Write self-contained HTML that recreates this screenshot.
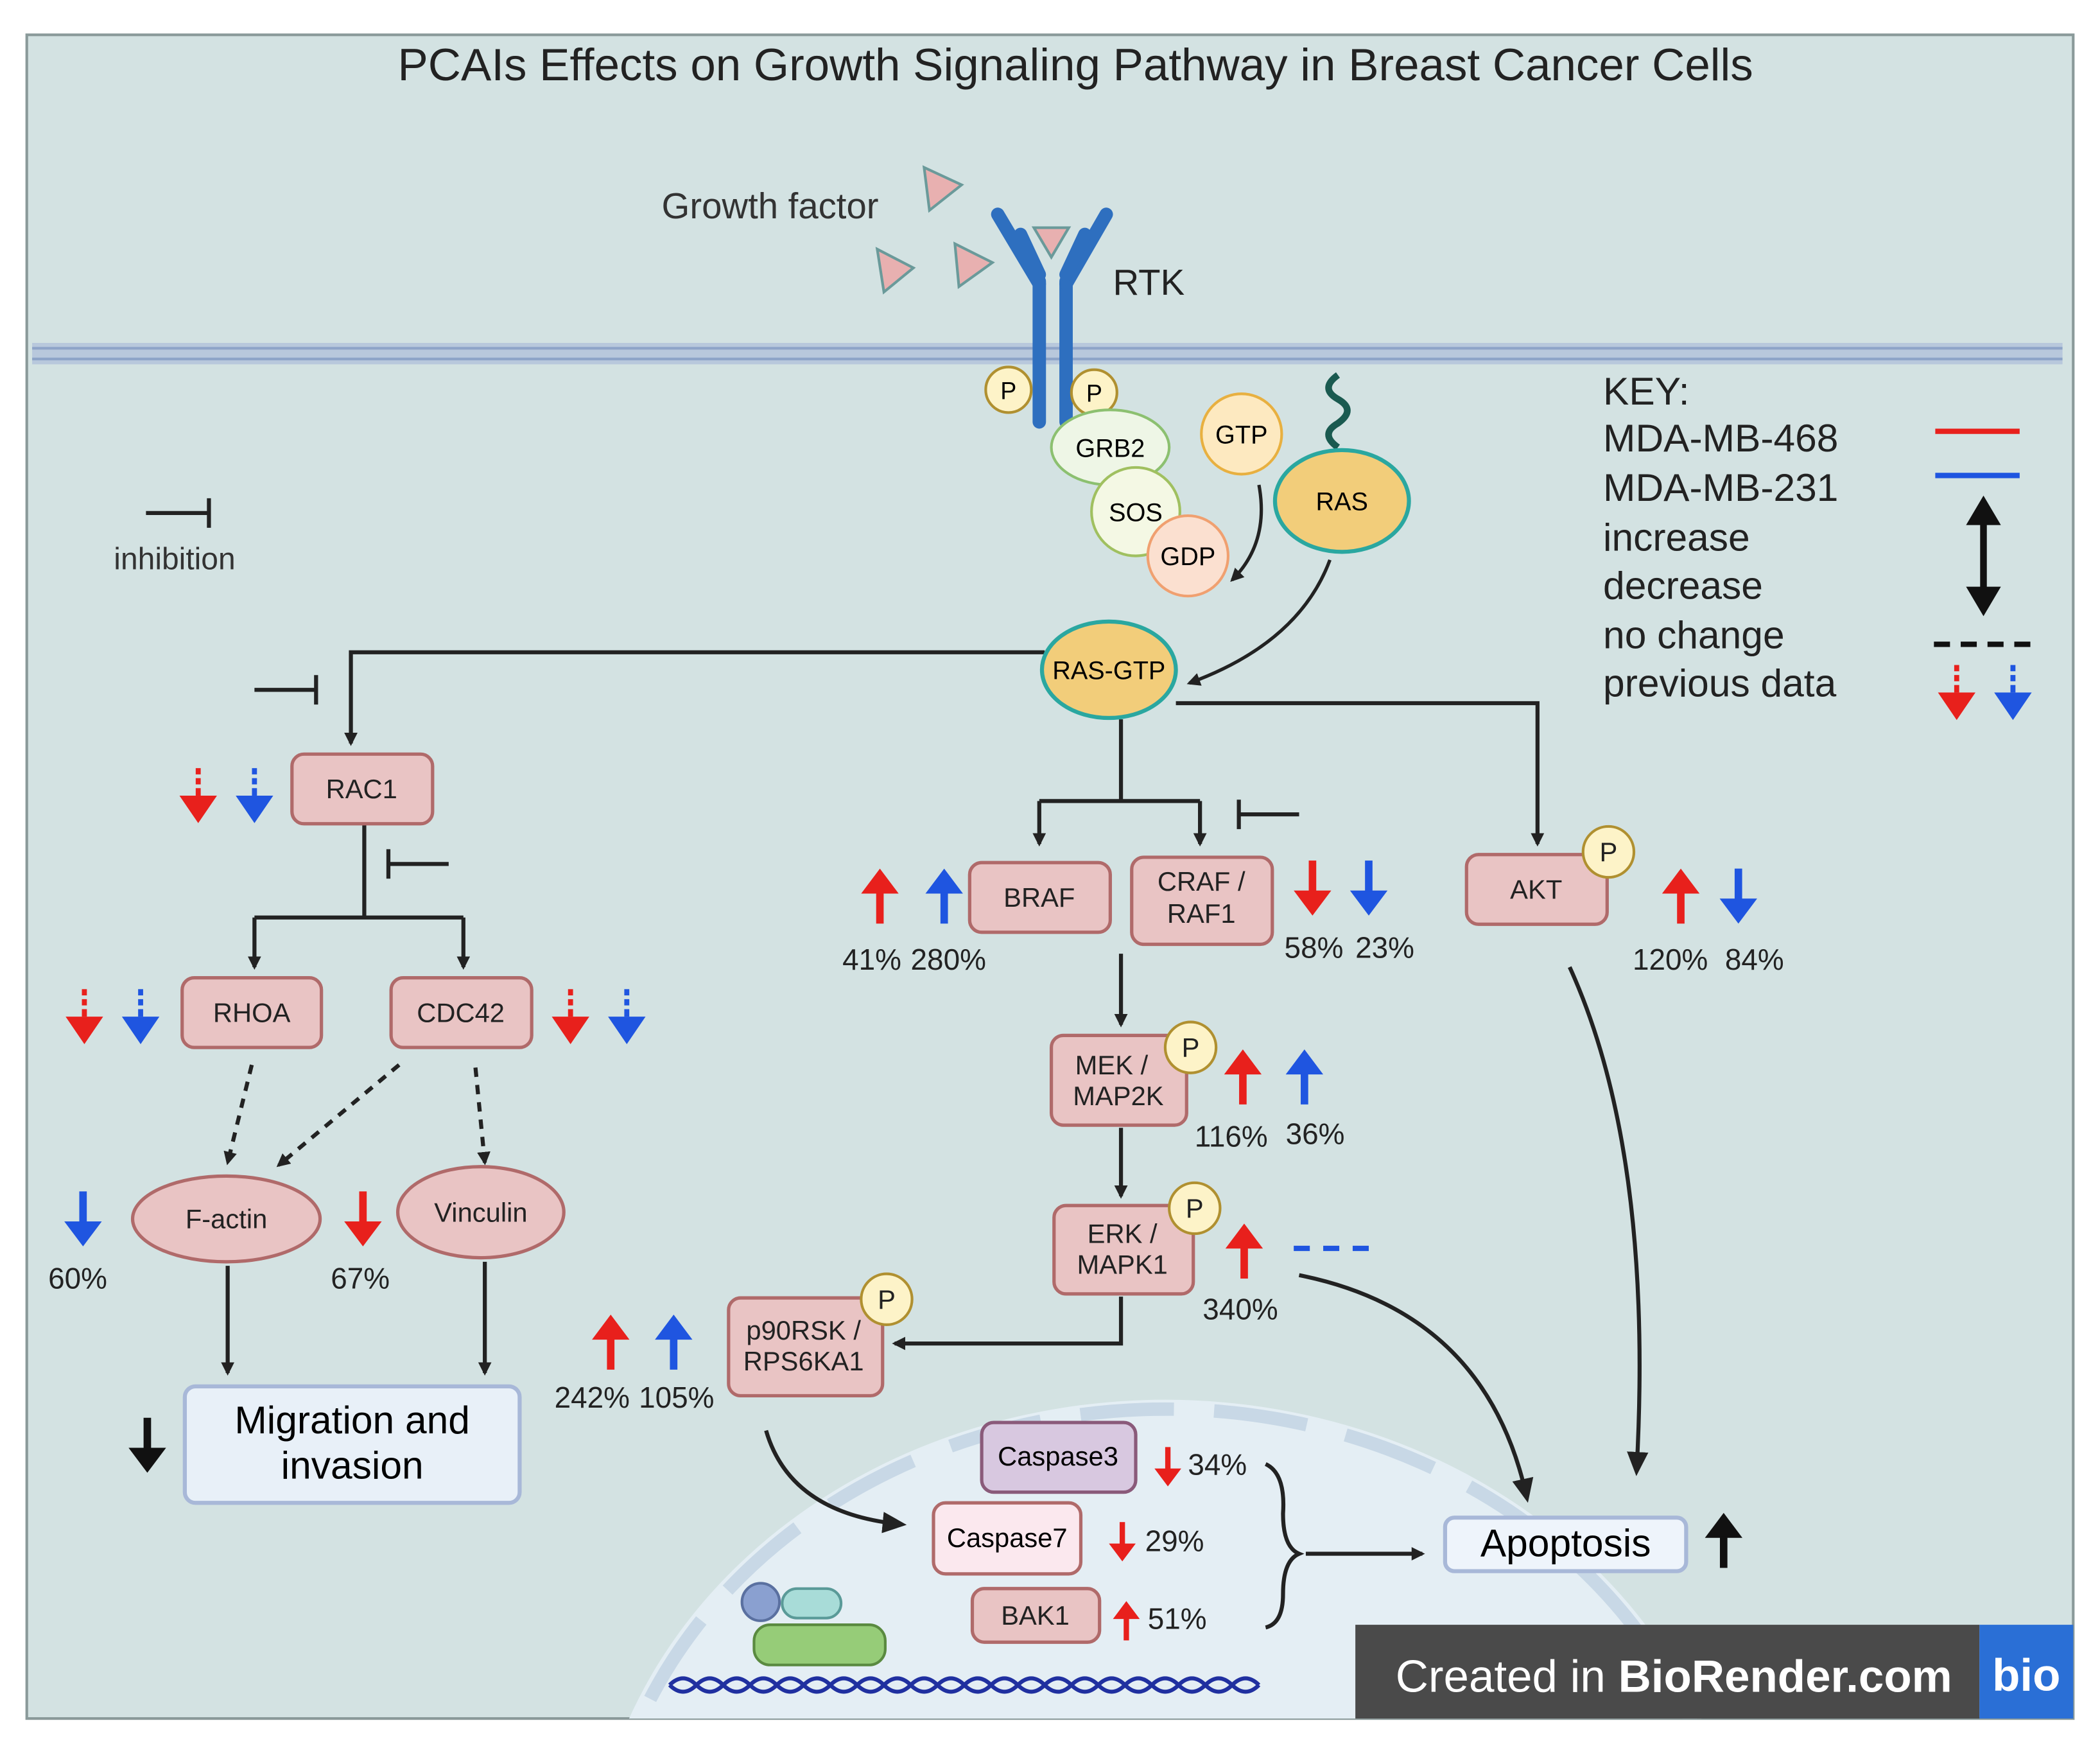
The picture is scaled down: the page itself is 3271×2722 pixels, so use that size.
<!DOCTYPE html>
<html><head><meta charset="utf-8"><style>html,body{margin:0;padding:0;background:#fff;overflow:hidden;width:3271px;height:2722px}svg{display:block}text{font-family:"Liberation Sans",sans-serif}</style></head><body>
<svg width="3271" height="2722" viewBox="0 0 1568 1305" preserveAspectRatio="none" xmlns="http://www.w3.org/2000/svg">
<defs>
<marker id="ah" markerWidth="10" markerHeight="10" refX="8" refY="5" orient="auto" markerUnits="userSpaceOnUse"><path d="M0,0 L10,5 L0,10 z" fill="#222"/></marker>
<marker id="ahb" markerWidth="18" markerHeight="16" refX="14" refY="8" orient="auto" markerUnits="userSpaceOnUse"><path d="M0,0 L18,8 L0,16 z" fill="#222"/></marker>
<symbol id="upR" viewBox="0 0 30 44"><polygon points="0,20 15,0 30,20" fill="#e8201c"/><rect x="12" y="19" width="6" height="25" fill="#e8201c"/></symbol>
<symbol id="upB" viewBox="0 0 30 44"><polygon points="0,20 15,0 30,20" fill="#1f55e0"/><rect x="12" y="19" width="6" height="25" fill="#1f55e0"/></symbol>
<symbol id="dnR" viewBox="0 0 30 44"><polygon points="0,24 15,44 30,24" fill="#e8201c"/><rect x="12" y="0" width="6" height="25" fill="#e8201c"/></symbol>
<symbol id="dnB" viewBox="0 0 30 44"><polygon points="0,24 15,44 30,24" fill="#1f55e0"/><rect x="12" y="0" width="6" height="25" fill="#1f55e0"/></symbol>
<symbol id="ddR" viewBox="0 0 30 44"><polygon points="0,22 15,44 30,22" fill="#e8201c"/><rect x="13" y="0" width="4" height="5" fill="#e8201c"/><rect x="13" y="8" width="4" height="5" fill="#e8201c"/><rect x="13" y="16" width="4" height="6" fill="#e8201c"/></symbol>
<symbol id="ddB" viewBox="0 0 30 44"><polygon points="0,22 15,44 30,22" fill="#1f55e0"/><rect x="13" y="0" width="4" height="5" fill="#1f55e0"/><rect x="13" y="8" width="4" height="5" fill="#1f55e0"/><rect x="13" y="16" width="4" height="6" fill="#1f55e0"/></symbol>
<symbol id="upK" viewBox="0 0 30 44"><polygon points="0,20 15,0 30,20" fill="#111"/><rect x="12" y="19" width="6" height="25" fill="#111"/></symbol>
<symbol id="dnK" viewBox="0 0 30 44"><polygon points="0,24 15,44 30,24" fill="#111"/><rect x="12" y="0" width="6" height="25" fill="#111"/></symbol>
<clipPath id="pc"><rect x="20" y="26" width="1528" height="1257"/></clipPath>
</defs>
<rect x="0" y="0" width="1568" height="1305" fill="#fff"/>
<rect x="20" y="26" width="1528" height="1257" fill="#d3e2e2" stroke="#8a9a9a" stroke-width="2"/>
<text x="803" y="60" font-size="34" text-anchor="middle" fill="#222">PCAIs Effects on Growth Signaling Pathway in Breast Cancer Cells</text>
<rect x="24" y="256" width="1516" height="16" fill="#b8c8dc"/>
<line x1="24" y1="260" x2="1540" y2="260" stroke="#8ea4c8" stroke-width="2"/>
<line x1="24" y1="268" x2="1540" y2="268" stroke="#8ea4c8" stroke-width="2"/>
<g clip-path="url(#pc)">
<ellipse cx="870" cy="1420" rx="430" ry="375" fill="#e4eef4"/>
<ellipse cx="870" cy="1420" rx="422" ry="368" fill="none" stroke="#c8d8e6" stroke-width="10" stroke-dasharray="70,30"/>
</g>
<text x="494" y="163" font-size="27" fill="#333">Growth factor</text>
<g fill="#e8b0b0" stroke="#6a9a9a" stroke-width="2">
<polygon points="690,125 718,138 694,157"/><polygon points="655,186 682,200 660,218"/><polygon points="713,182 741,196 716,214"/><polygon points="772,170 798,170 785,192"/>
</g>
<g stroke="#2e6fbf" stroke-width="10" stroke-linecap="round" fill="none">
<line x1="776" y1="210" x2="776" y2="315"/><line x1="796" y1="210" x2="796" y2="315"/>
<path d="M776,212 L745,160"/><path d="M796,212 L826,160"/>
<path d="M776,205 L762,175"/><path d="M796,205 L810,175"/>
</g>
<text x="831" y="220" font-size="27" fill="#222">RTK</text>
<g fill="#fdf3c8" stroke="#b09030" stroke-width="2"><circle cx="753" cy="291" r="17"/><circle cx="817" cy="293" r="17"/></g>
<text x="753" y="298" font-size="18" text-anchor="middle">P</text><text x="817" y="300" font-size="18" text-anchor="middle">P</text>
<ellipse cx="829" cy="334" rx="44" ry="28" fill="#eef6e6" stroke="#8cc070" stroke-width="2"/><text x="829" y="341" font-size="19" text-anchor="middle">GRB2</text>
<circle cx="848" cy="382" r="33" fill="#f4f8e4" stroke="#a0c060" stroke-width="2"/><text x="848" y="389" font-size="19" text-anchor="middle">SOS</text>
<circle cx="887" cy="415" r="30" fill="#fbe0d0" stroke="#f0a070" stroke-width="2"/><text x="887" y="422" font-size="19" text-anchor="middle">GDP</text>
<circle cx="927" cy="324" r="30" fill="#fde9c0" stroke="#e8b040" stroke-width="2"/><text x="927" y="331" font-size="19" text-anchor="middle">GTP</text>
<path d="M999,280 q-14,10 0,18 q14,8 0,18 q-14,8 0,18" stroke="#1a5a50" stroke-width="5" fill="none"/>
<ellipse cx="1002" cy="374" rx="50" ry="38" fill="#f2cd7a" stroke="#2aa7a0" stroke-width="3"/><text x="1002" y="381" font-size="19" text-anchor="middle">RAS</text>
<path d="M940,362 Q948,405 920,433" stroke="#222" stroke-width="2.5" fill="none" marker-end="url(#ah)"/>
<path d="M993,418 Q970,480 888,510" stroke="#222" stroke-width="2.5" fill="none" marker-end="url(#ah)"/>
<line x1="109" y1="383" x2="156" y2="383" stroke="#222" stroke-width="3"/><line x1="156" y1="372" x2="156" y2="394" stroke="#222" stroke-width="3"/>
<text x="85" y="425" font-size="23" fill="#333">inhibition</text>
<g stroke="#222" stroke-width="3" fill="none">
<path d="M780,487 L262,487 L262,555" marker-end="url(#ah)"/>
<path d="M878,525 L1148,525 L1148,630" marker-end="url(#ah)"/>
<path d="M837,537 L837,598 M776,598 L896,598"/>
<path d="M776,598 L776,630" marker-end="url(#ah)"/><path d="M896,598 L896,630" marker-end="url(#ah)"/>
<path d="M272,616 L272,685 M190,685 L346,685"/>
<path d="M190,685 L190,722" marker-end="url(#ah)"/><path d="M346,685 L346,722" marker-end="url(#ah)"/>
<path d="M837,712 L837,765" marker-end="url(#ah)"/>
<path d="M837,842 L837,893" marker-end="url(#ah)"/>
<path d="M837,968 L837,1003 L668,1003" marker-end="url(#ah)"/>
<path d="M170,945 L170,1025" marker-end="url(#ah)"/>
<path d="M362,942 L362,1025" marker-end="url(#ah)"/>
<path d="M975,1160 L1062,1160" marker-end="url(#ah)"/>
</g>
<g stroke="#222" stroke-width="3" fill="none" stroke-dasharray="7,6">
<path d="M188,795 L170,868" marker-end="url(#ah)"/>
<path d="M298,795 L208,870" marker-end="url(#ah)"/>
<path d="M355,797 L362,868" marker-end="url(#ah)"/>
</g>
<g stroke="#222" stroke-width="3" fill="none">
<path d="M970,952 Q1110,980 1140,1118" marker-end="url(#ahb)"/>
<path d="M1172,722 Q1235,860 1222,1098" marker-end="url(#ahb)"/>
<path d="M572,1068 Q590,1130 673,1138" marker-end="url(#ahb)"/>
<path d="M945,1093 Q960,1100 958,1130 Q958,1155 970,1160 Q958,1165 958,1190 Q958,1212 945,1215"/>
</g>
<g stroke="#222" stroke-width="3"><path d="M190,515 L236,515 M236,504 L236,526"/><path d="M290,645 L335,645 M290,634 L290,656"/><path d="M925,608 L970,608 M925,597 L925,619"/></g>
<g fill="#e9c4c4" stroke="#b06a6a" stroke-width="2.5">
<rect x="218" y="563" width="105" height="52" rx="9"/><rect x="136" y="730" width="104" height="52" rx="9"/><rect x="292" y="730" width="105" height="52" rx="9"/>
<rect x="724" y="644" width="105" height="52" rx="9"/><rect x="845" y="640" width="105" height="65" rx="9"/><rect x="1095" y="638" width="105" height="52" rx="9"/>
<rect x="785" y="773" width="101" height="67" rx="9"/><rect x="787" y="900" width="104" height="66" rx="9"/><rect x="544" y="969" width="115" height="73" rx="9"/>
<rect x="726" y="1186" width="95" height="40" rx="9"/>
<ellipse cx="169" cy="910" rx="70" ry="32"/><ellipse cx="359" cy="905" rx="62" ry="34"/>
</g>
<g fill="#fdf3c8" stroke="#b09030" stroke-width="2"><circle cx="1201" cy="636" r="19"/><circle cx="889" cy="782" r="19"/><circle cx="892" cy="902" r="19"/><circle cx="662" cy="970" r="19"/></g>
<g font-size="20" text-anchor="middle" fill="#222">
<text x="1201" y="643">P</text><text x="889" y="789">P</text><text x="892" y="909">P</text><text x="662" y="977">P</text>
<text x="270" y="596">RAC1</text><text x="188" y="763">RHOA</text><text x="344" y="763">CDC42</text>
<text x="776" y="677">BRAF</text><text x="897" y="665">CRAF /</text><text x="897" y="689">RAF1</text><text x="1147" y="671">AKT</text>
<text x="830" y="802">MEK /</text><text x="835" y="825">MAP2K</text><text x="838" y="928">ERK /</text><text x="838" y="951">MAPK1</text>
<text x="600" y="1000">p90RSK /</text><text x="600" y="1023">RPS6KA1</text>
<text x="169" y="917">F-actin</text><text x="359" y="912">Vinculin</text><text x="773" y="1213">BAK1</text>
</g>
<rect x="733" y="1062" width="115" height="52" rx="9" fill="#d8c8e0" stroke="#8a5a7a" stroke-width="2.5"/><text x="790" y="1094" font-size="20" text-anchor="middle">Caspase3</text>
<rect x="697" y="1122" width="110" height="53" rx="9" fill="#fbe8ee" stroke="#b06a6a" stroke-width="2.5"/><text x="752" y="1155" font-size="20" text-anchor="middle">Caspase7</text>
<rect x="138" y="1035" width="250" height="87" rx="8" fill="#e8f0f8" stroke="#a8b8d8" stroke-width="3"/>
<text x="263" y="1070" font-size="29" text-anchor="middle">Migration and</text><text x="263" y="1104" font-size="29" text-anchor="middle">invasion</text>
<rect x="1079" y="1133" width="180" height="40" rx="7" fill="#eef4fb" stroke="#a8b8d8" stroke-width="3"/><text x="1169" y="1162" font-size="29" text-anchor="middle">Apoptosis</text>
<ellipse cx="828" cy="500" rx="50" ry="36" fill="#f2cd7a" stroke="#2aa7a0" stroke-width="3"/><text x="828" y="507" font-size="19" text-anchor="middle">RAS-GTP</text>
<circle cx="568" cy="1196" r="14" fill="#8aa0d0" stroke="#5a70a0" stroke-width="2"/>
<rect x="584" y="1186" width="44" height="22" rx="11" fill="#a8dcd8" stroke="#5a9a98" stroke-width="2"/>
<rect x="563" y="1213" width="98" height="30" rx="12" fill="#96cc78" stroke="#5a8a40" stroke-width="2"/>
<path d="M500,1258 q10,-10 20,0 t20,0 t20,0 t20,0 t20,0 t20,0 t20,0 t20,0 t20,0 t20,0 t20,0 t20,0 t20,0 t20,0 t20,0 t20,0 t20,0 t20,0 t20,0 t20,0 t20,0 t20,0" stroke="#2030a0" stroke-width="3" fill="none"/>
<path d="M500,1258 q10,10 20,0 t20,0 t20,0 t20,0 t20,0 t20,0 t20,0 t20,0 t20,0 t20,0 t20,0 t20,0 t20,0 t20,0 t20,0 t20,0 t20,0 t20,0 t20,0 t20,0 t20,0 t20,0" stroke="#2030a0" stroke-width="3" fill="none"/>
<use href="#ddR" x="134" y="572" width="28" height="44"/><use href="#ddB" x="176" y="572" width="28" height="44"/>
<use href="#ddR" x="49" y="737" width="28" height="44"/><use href="#ddB" x="91" y="737" width="28" height="44"/>
<use href="#ddR" x="412" y="737" width="28" height="44"/><use href="#ddB" x="454" y="737" width="28" height="44"/>
<use href="#upR" x="643" y="647" width="28" height="44"/><use href="#upB" x="691" y="647" width="28" height="44"/>
<use href="#dnR" x="966" y="641" width="28" height="44"/><use href="#dnB" x="1008" y="641" width="28" height="44"/>
<use href="#upR" x="1241" y="647" width="28" height="44"/><use href="#dnB" x="1284" y="647" width="28" height="44"/>
<use href="#upR" x="914" y="782" width="28" height="44"/><use href="#upB" x="960" y="782" width="28" height="44"/>
<use href="#upR" x="915" y="912" width="28" height="44"/>
<line x1="966" y1="932" x2="1024" y2="932" stroke="#1f55e0" stroke-width="4" stroke-dasharray="12,10"/>
<use href="#upR" x="442" y="980" width="28" height="44"/><use href="#upB" x="489" y="980" width="28" height="44"/>
<use href="#dnB" x="48" y="888" width="28" height="44"/><use href="#dnR" x="257" y="888" width="28" height="44"/>
<use href="#dnK" x="96" y="1057" width="28" height="44"/><use href="#upK" x="1273" y="1128" width="28" height="44"/>
<use href="#dnR" x="862" y="1077" width="20" height="36"/><use href="#dnR" x="828" y="1133" width="20" height="36"/><use href="#upR" x="831" y="1192" width="20" height="36"/>
<g font-size="22" fill="#222">
<text x="629" y="724">41%</text><text x="680" y="724">280%</text><text x="959" y="715">58%</text><text x="1012" y="715">23%</text>
<text x="1219" y="724">120%</text><text x="1288" y="724">84%</text><text x="892" y="856">116%</text><text x="960" y="854">36%</text>
<text x="898" y="985">340%</text><text x="414" y="1051">242%</text><text x="477" y="1051">105%</text>
<text x="36" y="962">60%</text><text x="247" y="962">67%</text>
<text x="887" y="1101">34%</text><text x="855" y="1158">29%</text><text x="857" y="1216">51%</text>
</g>
<g font-size="29" fill="#222"><text x="1197" y="302">KEY:</text><text x="1197" y="337">MDA-MB-468</text><text x="1197" y="374">MDA-MB-231</text><text x="1197" y="411">increase</text><text x="1197" y="447">decrease</text><text x="1197" y="484">no change</text><text x="1197" y="520">previous data</text></g>
<line x1="1445" y1="322" x2="1508" y2="322" stroke="#e8201c" stroke-width="4"/>
<line x1="1445" y1="355" x2="1508" y2="355" stroke="#1f55e0" stroke-width="4"/>
<line x1="1481" y1="385" x2="1481" y2="440" stroke="#111" stroke-width="5"/>
<polygon points="1468,392 1481,370 1494,392" fill="#111"/><polygon points="1468,438 1481,460 1494,438" fill="#111"/>
<line x1="1444" y1="481" x2="1522" y2="481" stroke="#111" stroke-width="4" stroke-dasharray="12,8"/>
<use href="#ddR" x="1447" y="495" width="28" height="44"/><use href="#ddB" x="1489" y="495" width="28" height="44"/>
<rect x="1012" y="1213" width="466" height="70" fill="#4a4a4a"/>
<text x="1042" y="1263" font-size="34" fill="#fff">Created in <tspan font-weight="bold">BioRender.com</tspan></text>
<rect x="1478" y="1213" width="70" height="70" fill="#2a6fd6"/>
<text x="1513" y="1262" font-size="34" font-weight="bold" fill="#fff" text-anchor="middle">bio</text>
</svg>
</body></html>
